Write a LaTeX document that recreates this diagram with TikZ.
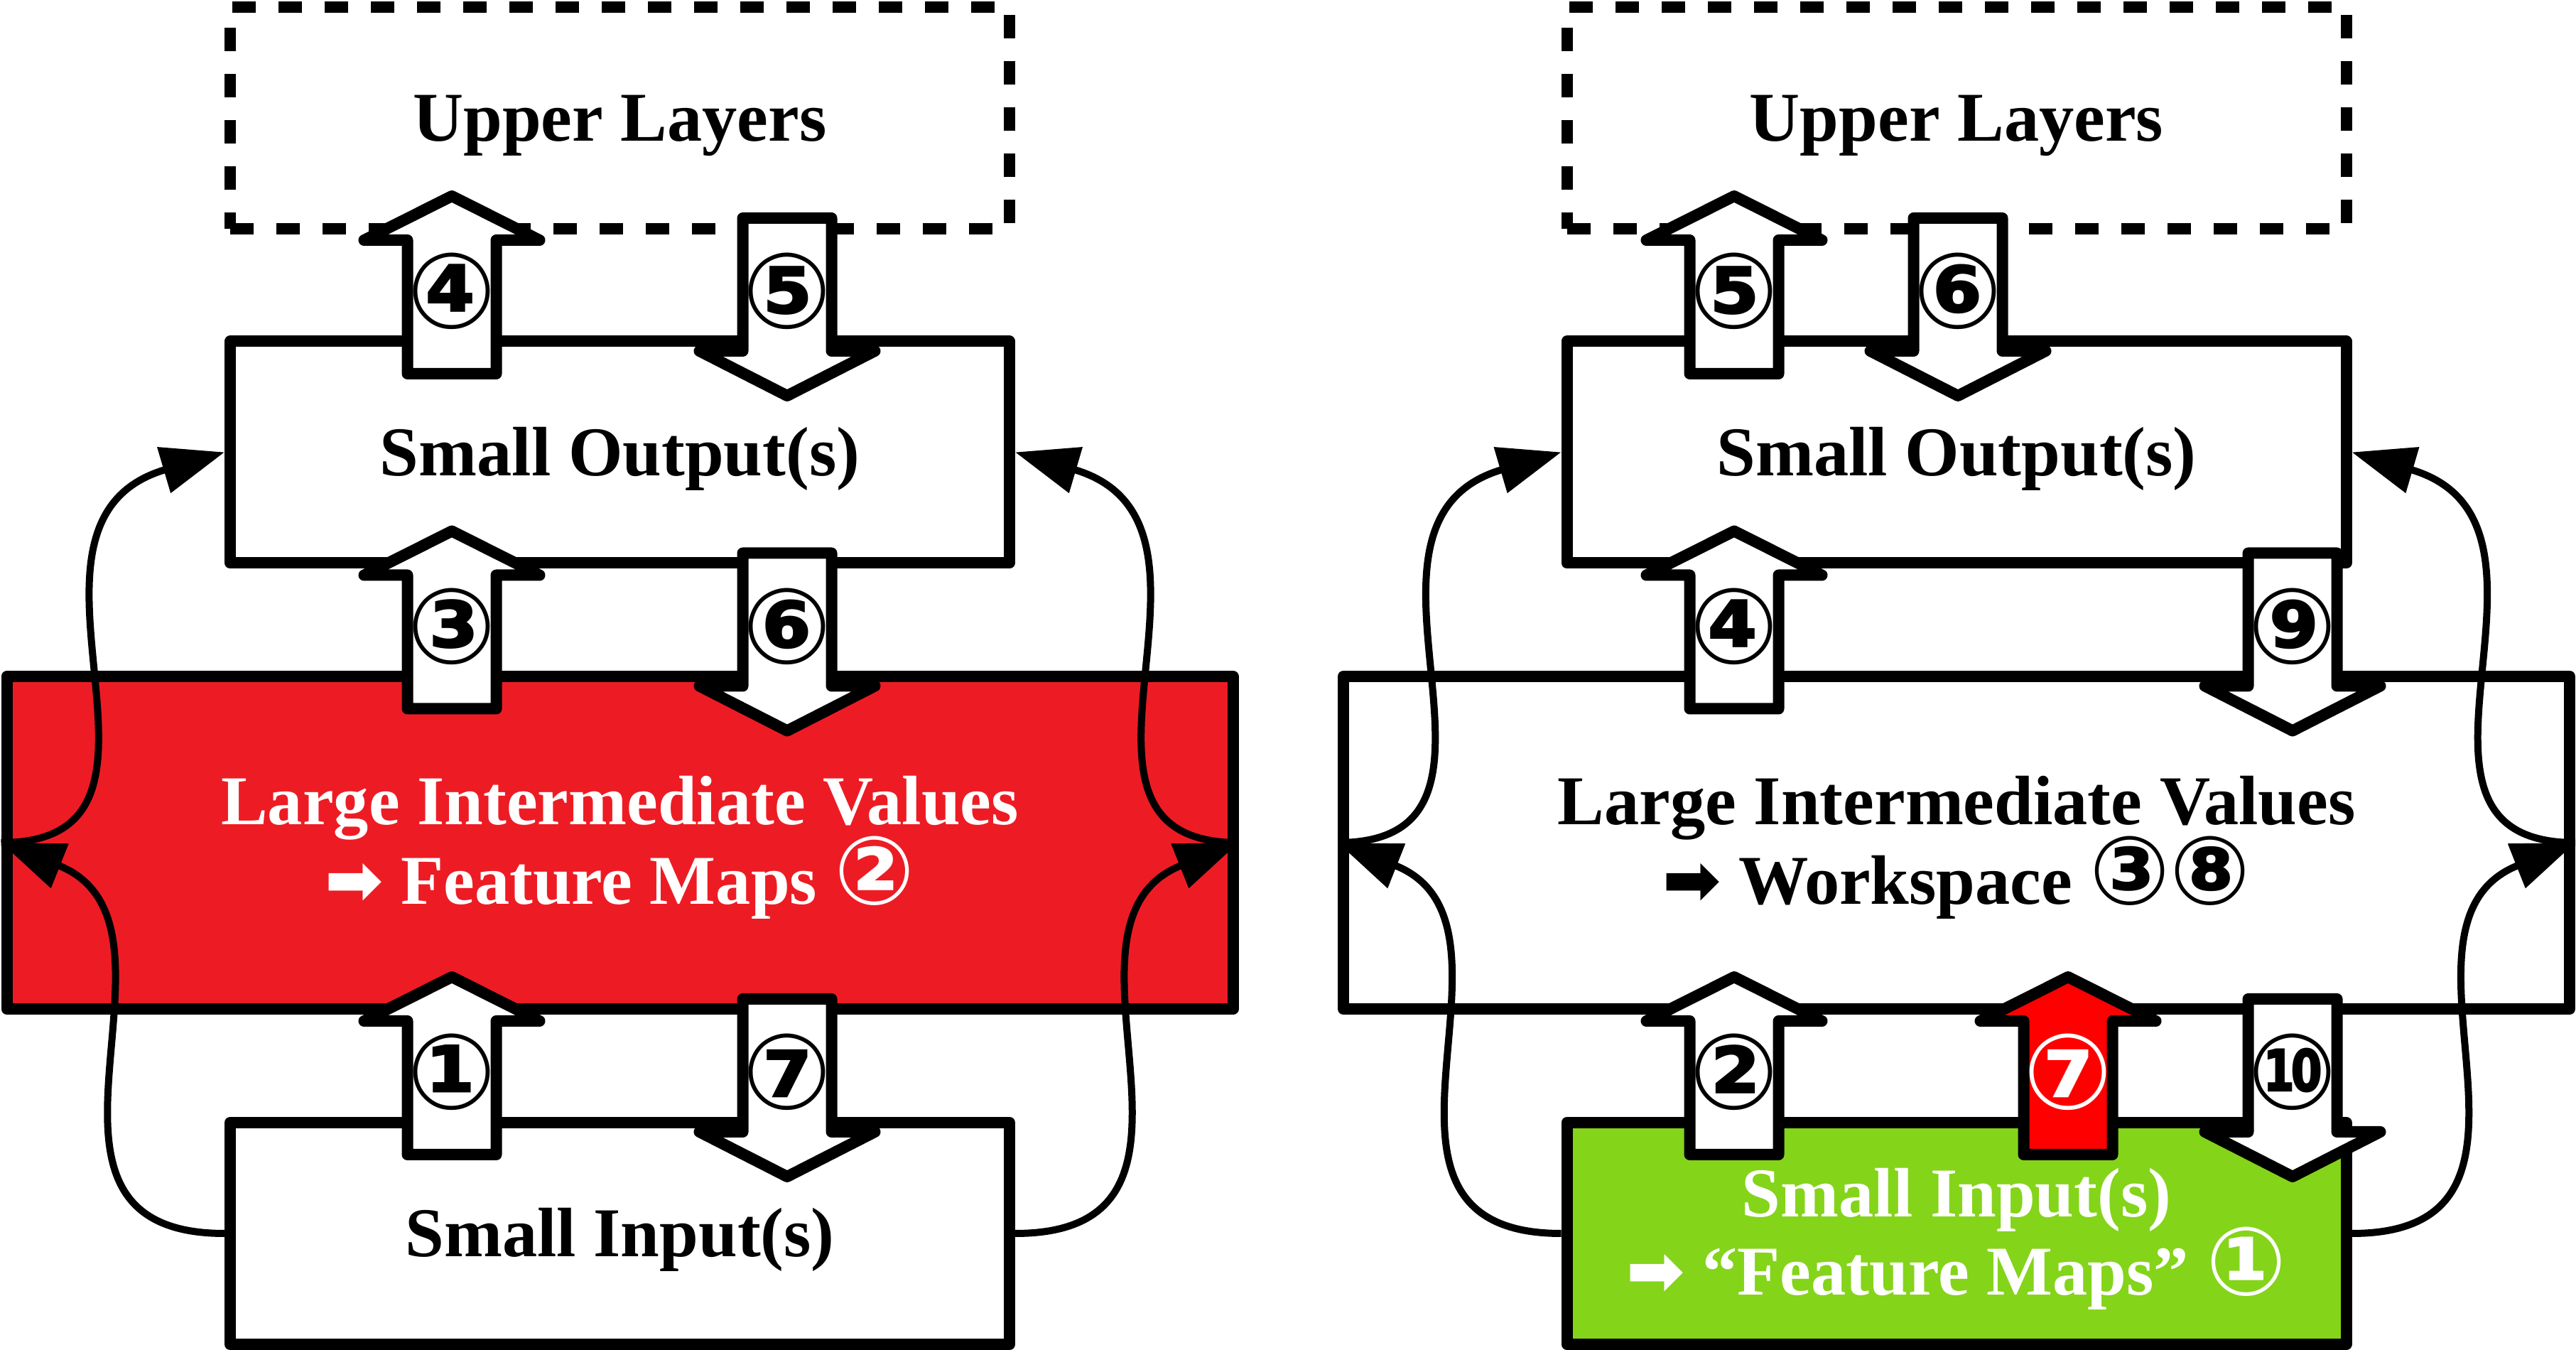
\documentclass[tikz,border=0pt]{standalone}
\usepackage{fontspec}
\setmainfont{Liberation Serif}
\newfontfamily\symfont{DejaVu Sans}
\usetikzlibrary{arrows.meta}

\definecolor{boxred}{HTML}{ED1C24}
\definecolor{arrred}{HTML}{FF0000}
\definecolor{boxgreen}{HTML}{84D41A}

\newcommand{\circnum}[1]{{\symfont\fontsize{38}{38}\selectfont #1}}

\tikzset{
    box/.style={draw, line width=0.16cm, line join=round, inner sep=0pt, minimum width=10.97cm, minimum height=3.12cm},
    bigbox/.style={box, minimum width=17.26cm, minimum height=4.68cm},
    upperbox/.style={box, dash pattern=on 0.33cm off 0.32cm},
    lbl/.style={font=\bfseries\fontsize{28}{32}\selectfont, anchor=base, inner sep=0pt},
    numtxt/.style={font=\bfseries\symfont\fontsize{42}{42}\selectfont, inner sep=0pt},
    blkarr/.style={draw, line width=0.16cm, line join=round},
    conn/.style={line width=0.1cm, -{Triangle[length=0.89cm,width=0.65cm]}},
    pics/uparr/.style n args={3}{code={
        \path[blkarr, fill=#2] (-0.625,-1.25) -- (-0.625,0.63) -- (-1.235,0.63) -- (0,1.25) -- (1.235,0.63) -- (0.625,0.63) -- (0.625,-1.25) -- cycle;
        \node[numtxt, text=#3] (-n) at (0,-0.09) {#1};
    }},
    pics/downarr/.style n args={3}{code={
        \path[blkarr, fill=#2] (-0.625,1.25) -- (-0.625,-0.62) -- (-1.235,-0.62) -- (0,-1.25) -- (1.235,-0.62) -- (0.625,-0.62) -- (0.625,1.25) -- cycle;
        \node[numtxt, text=#3] (-n) at (0,0.22) {#1};
    }},
}

\begin{document}
\begin{tikzpicture}
    \fill[white] (0,0) rectangle (36.26,19);
    \useasboundingbox (0,0) rectangle (36.26,19);

    \node[upperbox] (upL) at (8.725,17.34) {};
    \node[box] (outL) at (8.725,12.635) {};
    \node[bigbox, fill=boxred] (bigL) at (8.725,7.14) {};
    \node[box] (inL) at (8.725,1.64) {};

    \node[upperbox] (upR) at (27.54,17.34) {};
    \node[box] (outR) at (27.54,12.635) {};
    \node[bigbox] (bigR) at (27.54,7.14) {};
    \node[box, fill=boxgreen] (inR) at (27.54,1.64) {};

    \draw[conn] (bigL.west) .. controls +(3.0,0) and +(-3.4,-1.0) .. (outL.west);
    \draw[conn] (inL.west) .. controls +(-3.3,0) and +(2.9,-1.15) .. (bigL.west);
    \draw[conn] (bigL.east) .. controls +(-3.0,0) and +(3.4,-1.0) .. (outL.east);
    \draw[conn] (inL.east) .. controls +(3.3,0) and +(-2.9,-1.15) .. (bigL.east);

    \draw[conn] (bigR.west) .. controls +(3.0,0) and +(-3.4,-1.0) .. (outR.west);
    \draw[conn] (inR.west) .. controls +(-3.3,0) and +(2.9,-1.15) .. (bigR.west);
    \draw[conn] (bigR.east) .. controls +(-3.0,0) and +(3.4,-1.0) .. (outR.east);
    \draw[conn] (inR.east) .. controls +(3.3,0) and +(-2.9,-1.15) .. (bigR.east);

    \pic (p4L) at (6.36,14.99) {uparr={④}{white}{black}};
    \pic (p5L) at (11.08,14.68) {downarr={⑤}{white}{black}};
    \pic (p3L) at (6.36,10.275) {uparr={③}{white}{black}};
    \pic (p6L) at (11.08,9.965) {downarr={⑥}{white}{black}};
    \pic (p1L) at (6.36,4.00) {uparr={①}{white}{black}};
    \pic (p7L) at (11.08,3.69) {downarr={⑦}{white}{black}};

    \pic (p5R) at (24.41,14.99) {uparr={⑤}{white}{black}};
    \pic (p6R) at (27.56,14.68) {downarr={⑥}{white}{black}};
    \pic (p4R) at (24.41,10.275) {uparr={④}{white}{black}};
    \pic (p9R) at (32.27,9.965) {downarr={⑨}{white}{black}};
    \pic (p2R) at (24.41,4.00) {uparr={②}{white}{black}};
    \pic (p7R) at (29.11,4.00) {uparr={⑦}{arrred}{white}};
    \pic (p10R) at (32.27,3.69) {downarr={⑩}{white}{black}};

    \node[lbl] (tupL) at (8.725,17.01) {Upper Layers};
    \node[lbl] (toutL) at (8.725,12.30) {Small Output(s)};
    \node[lbl, text=white] (tbigL1) at (8.725,7.39) {Large Intermediate Values};
    \node[lbl, text=white] (tbigL2) at (8.725,6.27) {{\symfont ➡} Feature Maps \circnum{②}};
    \node[lbl] (tinL) at (8.725,1.31) {Small Input(s)};

    \node[lbl] (tupR) at (27.54,17.01) {Upper Layers};
    \node[lbl] (toutR) at (27.54,12.30) {Small Output(s)};
    \node[lbl] (tbigR1) at (27.54,7.39) {Large Intermediate Values};
    \node[lbl] (tbigR2) at (27.54,6.27) {{\symfont ➡} Workspace \circnum{③⑧}};
    \node[lbl, text=white] (tinR1) at (27.54,1.87) {Small Input(s)};
    \node[lbl, text=white] (tinR2) at (27.54,0.77) {{\symfont ➡} “Feature Maps” \circnum{①}};
\end{tikzpicture}
\end{document}
